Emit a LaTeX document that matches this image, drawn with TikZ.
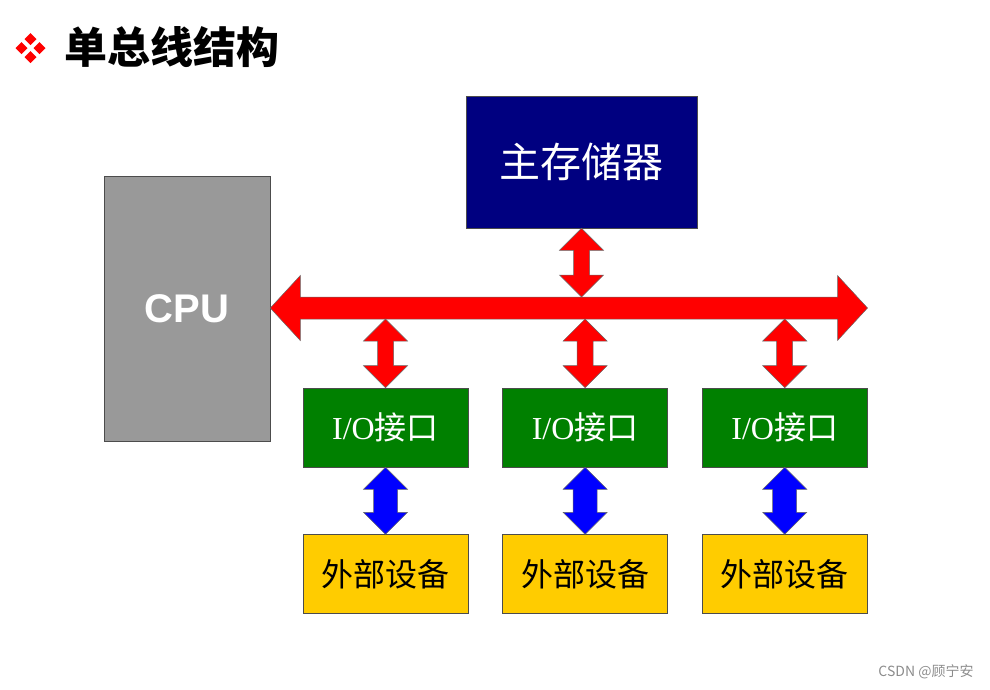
\documentclass[tikz,border=0pt]{standalone}
\usepackage{fontspec}
\setmainfont{Liberation Serif}
\newfontfamily\cjk{Noto Sans CJK SC}
\newfontfamily\arial{Liberation Sans}
\usetikzlibrary{positioning,calc}

\definecolor{memblue}{HTML}{000080}
\definecolor{iogreen}{HTML}{008000}
\definecolor{devgold}{HTML}{FFCC00}
\definecolor{cpugray}{HTML}{999999}

% fat vertical double arrow: top, bottom, fill, head half width, shaft half width
\newcommand\vlink[5]{%
	\filldraw[fill=#3,draw=black!60,line width=0.5pt] (#1) -- ++(#4,22) -- ++(-#4+#5,0)
		-- ($(#2)+(#5,-22)$) -- ++(#4-#5,0) -- (#2) -- ++(-#4,-22) -- ++(#4-#5,0)
		-- ($(#1)+(-#5,22)$) -- ++(-#4+#5,0) -- cycle;}

\begin{document}
\begin{tikzpicture}[x=1pt,y=-1pt,
	box/.style={draw=black!70,line width=0.6pt,inner sep=0pt},
	io/.style={box,fill=iogreen,minimum width=165pt,minimum height=79pt,text=white,font=\fontsize{32}{36}\selectfont},
	dev/.style={box,fill=devgold,minimum width=165pt,minimum height=79pt,font=\cjk\fontsize{32}{36}\selectfont}]

	\useasboundingbox (0,0) rectangle (990,689);

	% title
	\foreach \dx/\dy in {0/-9,-9/0,9/0,0/9}
		\fill[red] (30.5+\dx,42+\dy) -- ++(6,6) -- ++(-6,6) -- ++(-6,-6) -- cycle;
	\node[font=\cjk\bfseries\fontsize{43}{47}\selectfont,anchor=west,inner sep=0pt] (title) at (64,47) {单总线结构};

	\node[box,fill=cpugray,minimum width=166pt,minimum height=265pt,text=white,font=\arial\bfseries\fontsize{40}{44}\selectfont] (cpu) at (187,308.5) {CPU};
	\node[box,fill=memblue,minimum width=231pt,minimum height=132pt,text=white,font=\cjk\fontsize{41}{45}\selectfont] (mem) at (581.5,162) {主存储器};

	\node[io] (io1) at (385.5,427.5) {I/O{\cjk 接口}};
	\node[io] (io2) [right=34pt of io1] {I/O{\cjk 接口}};
	\node[io] (io3) [right=34pt of io2] {I/O{\cjk 接口}};

	\node[dev] (dev1) [below=67pt of io1] {外部设备};
	\node[dev] (dev2) [below=67pt of io2] {外部设备};
	\node[dev] (dev3) [below=67pt of io3] {外部设备};

	% system bus
	\coordinate (busl) at (cpu.east |- 0,308);
	\coordinate (busr) at (io3.east |- 0,308);
	\coordinate (bustop) at (0,297);
	\coordinate (busbot) at (0,319);
	\filldraw[fill=red,draw=black!60,line width=0.5pt] (busl) -- ++(30,-32.5) -- ++(0,21.5)
		-- ($(busr)+(-30,-11)$) -- ++(0,-21.5) -- (busr) -- ++(-30,32.5) -- ++(0,-21.5)
		-- ($(busl)+(30,11)$) -- ++(0,21.5) -- cycle;

	\vlink{mem.south}{mem.south |- bustop}{red}{22}{8}
	\foreach \n in {1,2,3} {
		\vlink{io\n.north |- busbot}{io\n.north}{red}{22}{8}
		\vlink{io\n.south}{dev\n.north}{blue}{22}{12}
	}

	\node[text=black!45,font=\cjk\fontsize{14}{16}\selectfont] (mark) at (926,672) {CSDN @顾宁安};

\end{tikzpicture}
\end{document}
